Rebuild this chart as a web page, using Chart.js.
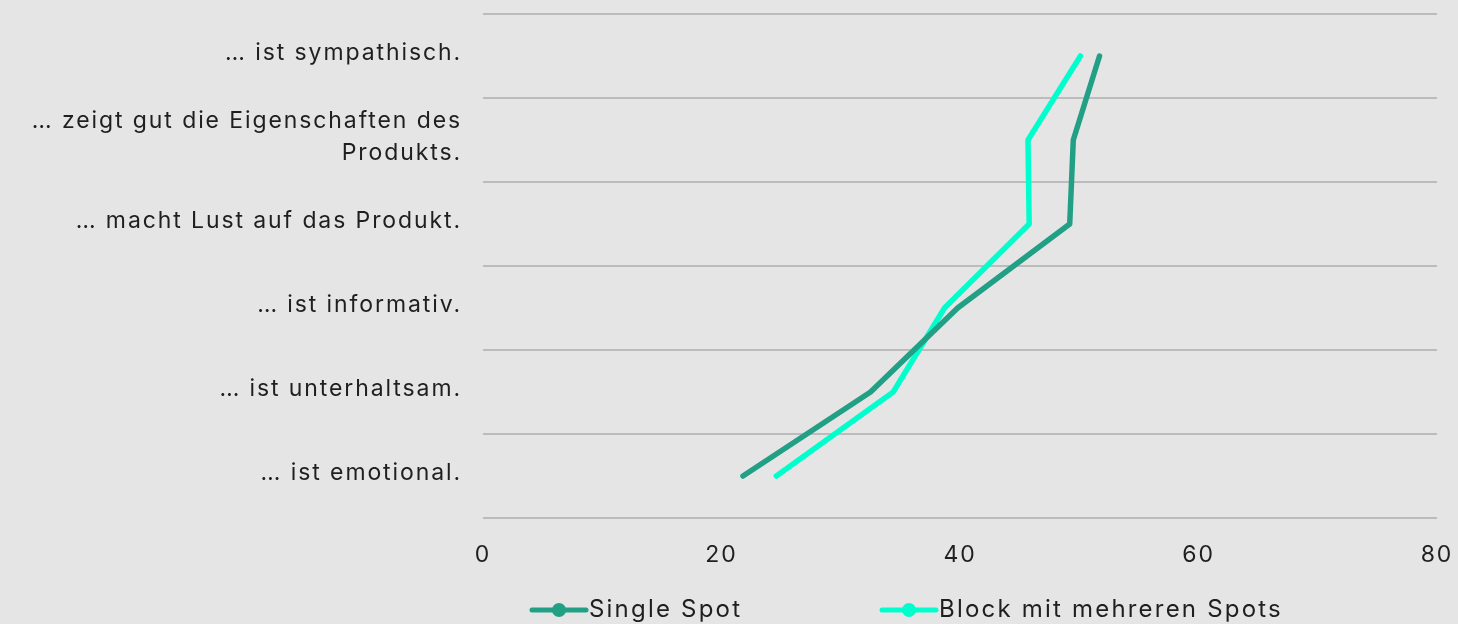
<!DOCTYPE html>
<html>
<head>
<meta charset="utf-8">
<script src="https://cdn.jsdelivr.net/npm/chart.js@4/dist/chart.umd.min.js"></script>
<style>
  html, body { margin: 0; padding: 0; background: #e5e5e5; }
  #wrap { width: 1458px; height: 624px; }
</style>
</head>
<body>
<div id="wrap"><canvas id="chart" width="1458" height="624"></canvas></div>
<script>
// Statements about the spot, top to bottom
const categories = [
  "… ist sympathisch.",
  ["… zeigt gut die Eigenschaften des", "Produkts."],
  "… macht Lust auf das Produkt.",
  "… ist informativ.",
  "… ist unterhaltsam.",
  "… ist emotional."
];

// Agreement per statement
const singleSpot = [51.7, 49.5, 49.2, 39.8, 32.5, 21.8];
const blockSpots = [50.1, 45.7, 45.8, 38.7, 34.4, 24.6];

const seriesNames = ["Single Spot", "Block mit mehreren Spots"];
const seriesColors = ["#22a086", "#00ffcc"];

const xMin = 0, xMax = 80, xStep = 20;

const FONT = "Inter, 'Open Sans', sans-serif";
const TEXT = "#1f1f1f";
const SPACING = "1.9px";

// Wider letter spacing for all canvas text (set before measuring and drawing)
const textSpacing = {
  id: "textSpacing",
  beforeUpdate(chart) { chart.ctx.letterSpacing = SPACING; },
  beforeLayout(chart) { chart.ctx.letterSpacing = SPACING; },
  beforeDraw(chart) { chart.ctx.letterSpacing = SPACING; }
};

// Legend drawn as a line-with-dot marker followed by the series name
const legendRow = {
  id: "legendRow",
  afterDraw(chart) {
    const ctx = chart.ctx;
    const y = chart.height - 14;
    let x = 530;
    ctx.save();
    chart.data.datasets.forEach((ds) => {
      ctx.strokeStyle = ds.borderColor;
      ctx.fillStyle = ds.borderColor;
      ctx.lineWidth = 5;
      ctx.lineCap = "round";
      ctx.beginPath();
      ctx.moveTo(x + 2, y);
      ctx.lineTo(x + 56, y);
      ctx.stroke();
      ctx.beginPath();
      ctx.arc(x + 29, y, 7, 0, Math.PI * 2);
      ctx.fill();
      ctx.fillStyle = TEXT;
      ctx.letterSpacing = "2.2px";
      ctx.font = "24px " + FONT;
      ctx.textBaseline = "middle";
      ctx.textAlign = "left";
      ctx.fillText(ds.label, x + 59, y);
      x += 350;
    });
    ctx.restore();
  }
};

new Chart(document.getElementById("chart"), {
  type: "line",
  data: {
    labels: categories,
    datasets: [
      { label: seriesNames[0], data: singleSpot, borderColor: seriesColors[0], backgroundColor: seriesColors[0] },
      { label: seriesNames[1], data: blockSpots, borderColor: seriesColors[1], backgroundColor: seriesColors[1] }
    ]
  },
  options: {
    indexAxis: "y",
    responsive: false,
    animation: false,
    devicePixelRatio: 1,
    layout: { padding: { top: 14, right: 21, bottom: 56, left: 0 } },
    elements: {
      line: { borderWidth: 5.5, borderCapStyle: "round", borderJoinStyle: "round", tension: 0 },
      point: { radius: 0, hoverRadius: 0 }
    },
    plugins: {
      legend: { display: false },
      tooltip: { enabled: false }
    },
    scales: {
      x: {
        type: "linear",
        min: xMin,
        max: xMax,
        ticks: { stepSize: xStep, padding: 15, color: TEXT, font: { family: FONT, size: 23 } },
        grid: { display: false },
        border: { display: false },
        afterFit(scale) {
          scale.height = 50;
          scale.paddingLeft = 0;
          scale.paddingRight = 0;
        }
      },
      y: {
        type: "category",
        offset: true,
        grid: { offset: true, color: "#bcbcbc", lineWidth: 2, drawTicks: false },
        border: { display: false },
        ticks: { padding: 21, labelOffset: -3, color: TEXT, font: { family: FONT, size: 23, lineHeight: 1.4 } },
        afterFit(scale) {
          scale.width = 483;
          scale.paddingTop = 0;
          scale.paddingBottom = 0;
        }
      }
    }
  },
  plugins: [textSpacing, legendRow]
});
</script>
</body>
</html>
